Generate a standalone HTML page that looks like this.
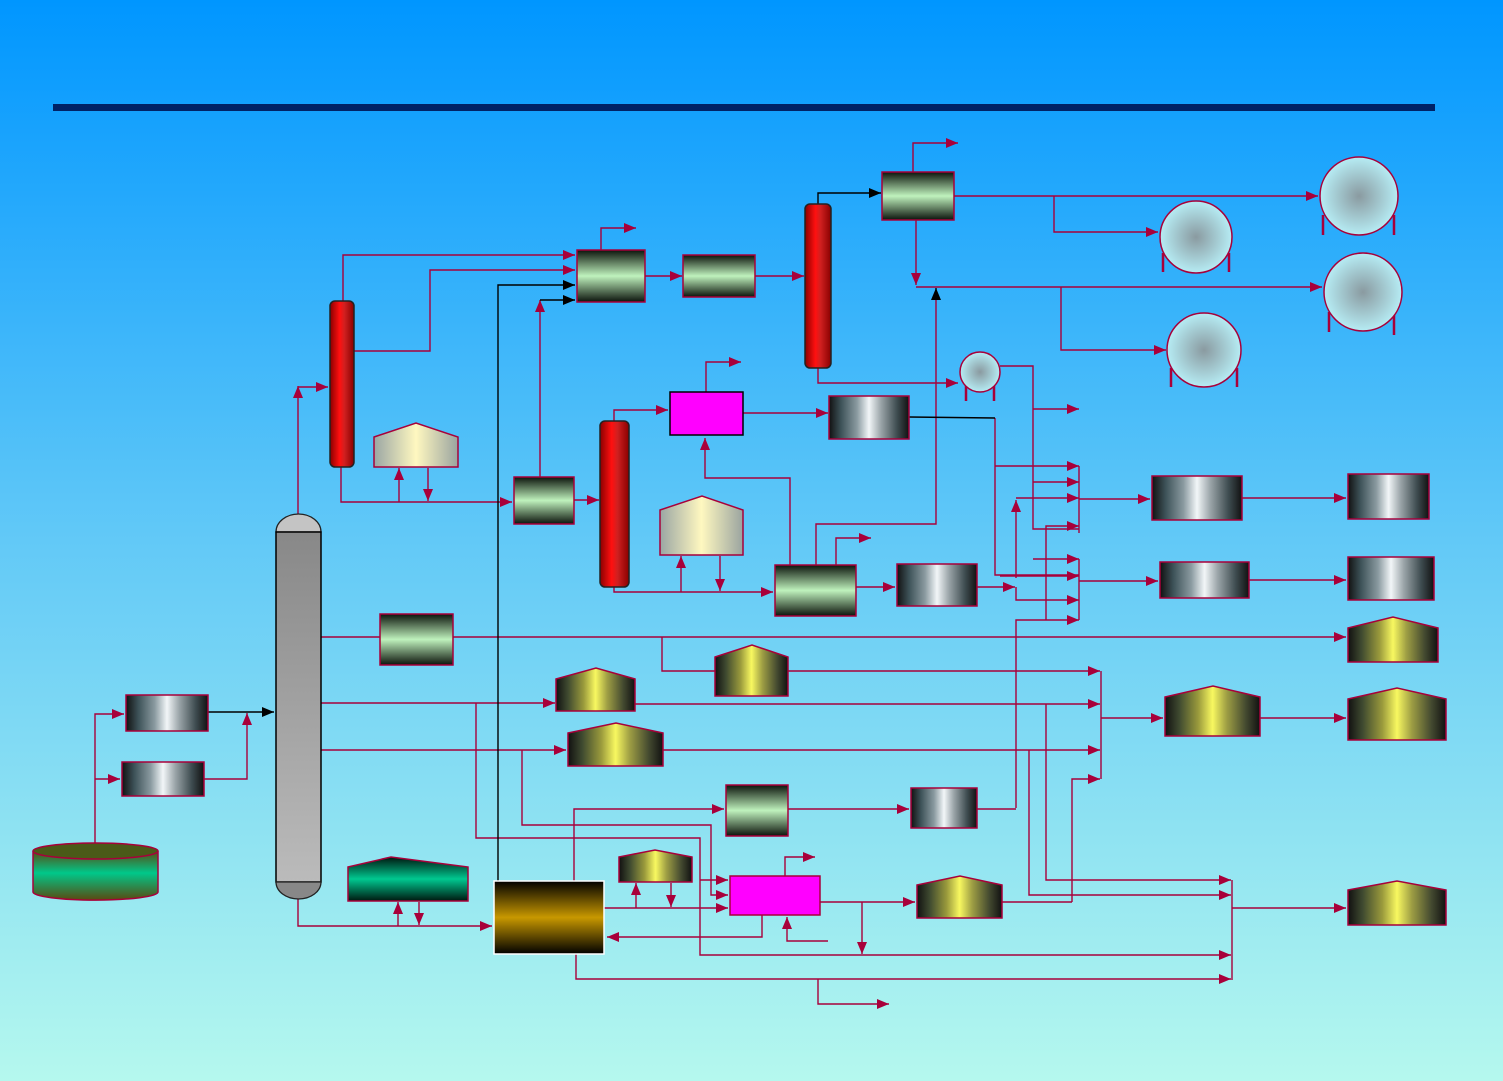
<!DOCTYPE html>
<html><head><meta charset="utf-8">
<style>html,body{margin:0;padding:0;width:1503px;height:1081px;overflow:hidden}svg{display:block}</style>
</head><body>
<svg width="1503" height="1081" viewBox="0 0 1503 1081" xmlns="http://www.w3.org/2000/svg">
<defs>
<linearGradient id="bg" x1="0" y1="0" x2="0" y2="1"><stop offset="0" stop-color="#0096ff"/><stop offset="0.5" stop-color="#62c9f7"/><stop offset="1" stop-color="#b5f8ee"/></linearGradient>
<linearGradient id="gb" x1="0" y1="0" x2="0" y2="1"><stop offset="0" stop-color="#0c140c"/><stop offset="0.5" stop-color="#bff2bd"/><stop offset="1" stop-color="#0c140c"/></linearGradient>
<linearGradient id="mt" x1="0" y1="0" x2="1" y2="0"><stop offset="0" stop-color="#111"/><stop offset="0.15" stop-color="#3d5258"/><stop offset="0.35" stop-color="#8a9aa0"/><stop offset="0.5" stop-color="#f2f6f8"/><stop offset="0.65" stop-color="#9aa4a8"/><stop offset="0.85" stop-color="#3e4c50"/><stop offset="1" stop-color="#111"/></linearGradient>
<linearGradient id="yl" x1="0" y1="0" x2="1" y2="0"><stop offset="0" stop-color="#111"/><stop offset="0.15" stop-color="#3f4a30"/><stop offset="0.35" stop-color="#9a9a3c"/><stop offset="0.5" stop-color="#f8f860"/><stop offset="0.65" stop-color="#9e9e44"/><stop offset="0.85" stop-color="#444a30"/><stop offset="1" stop-color="#111"/></linearGradient>
<linearGradient id="bz" x1="0" y1="0" x2="1" y2="0"><stop offset="0" stop-color="#9aa6a4"/><stop offset="0.5" stop-color="#fff8c0"/><stop offset="1" stop-color="#9aa4a0"/></linearGradient>
<linearGradient id="rd" x1="0" y1="0" x2="1" y2="0"><stop offset="0" stop-color="#8a0000"/><stop offset="0.4" stop-color="#ff1010"/><stop offset="0.6" stop-color="#d02020"/><stop offset="1" stop-color="#8a0000"/></linearGradient>
<linearGradient id="gc" x1="0" y1="0" x2="0" y2="1"><stop offset="0" stop-color="#888"/><stop offset="1" stop-color="#bbb"/></linearGradient>
<linearGradient id="br" x1="0" y1="0" x2="0" y2="1"><stop offset="0" stop-color="#000"/><stop offset="0.5" stop-color="#c89800"/><stop offset="1" stop-color="#000"/></linearGradient>
<linearGradient id="tl" x1="0" y1="0" x2="0" y2="1"><stop offset="0" stop-color="#001810"/><stop offset="0.5" stop-color="#00c890"/><stop offset="1" stop-color="#001810"/></linearGradient>
<linearGradient id="tk" x1="0" y1="0" x2="0" y2="1"><stop offset="0" stop-color="#5a4a10"/><stop offset="0.45" stop-color="#00c88a"/><stop offset="1" stop-color="#5a4a10"/></linearGradient>
<radialGradient id="sp"><stop offset="0" stop-color="#8a9aa0"/><stop offset="1" stop-color="#b6ecf4"/></radialGradient>
<marker id="a" markerUnits="userSpaceOnUse" markerWidth="12" markerHeight="10" refX="12" refY="5" orient="auto"><path d="M0,0L12,5L0,10z" fill="#a8003a"/></marker>
<marker id="k" markerUnits="userSpaceOnUse" markerWidth="12" markerHeight="10" refX="12" refY="5" orient="auto"><path d="M0,0L12,5L0,10z" fill="#000"/></marker>
</defs>
<rect width="1503" height="1081" fill="url(#bg)"/>
<rect x="53" y="104" width="1382" height="7" fill="#002266"/>

<g fill="none" stroke="#a8003a" stroke-width="1.4">
<polyline points="95,845 95,714 124,714" marker-end="url(#a)"/>
<polyline points="95,779 120,779" marker-end="url(#a)"/>
<polyline points="204,779 247,779 247,713" marker-end="url(#a)"/>
<polyline points="298,514 298,386" marker-end="url(#a)"/>
<polyline points="298,387 328,387" marker-end="url(#a)"/>
<polyline points="343,301 343,255 575,255" marker-end="url(#a)"/>
<polyline points="354,351 430,351 430,270 575,270" marker-end="url(#a)"/>
<polyline points="341,467 341,502 512,502" marker-end="url(#a)"/>
<polyline points="399,502 399,468" marker-end="url(#a)"/>
<polyline points="428,468 428,501" marker-end="url(#a)"/>
<polyline points="540,477 540,300" marker-end="url(#a)"/>
<polyline points="574,500 599,500" marker-end="url(#a)"/>
<polyline points="601,250 601,228 636,228" marker-end="url(#a)"/>
<polyline points="645,276 682,276" marker-end="url(#a)"/>
<polyline points="755,276 804,276" marker-end="url(#a)"/>
<polyline points="913,172 913,143 958,143" marker-end="url(#a)"/>
<polyline points="954,196 1318,196" marker-end="url(#a)"/>
<polyline points="1054,196 1054,232 1158,232" marker-end="url(#a)"/>
<polyline points="916,220 916,285" marker-end="url(#a)"/>
<polyline points="916,287 1322,287" marker-end="url(#a)"/>
<polyline points="1061,287 1061,350 1166,350" marker-end="url(#a)"/>
<polyline points="818,368 818,383 958,383" marker-end="url(#a)"/>
<polyline points="614,421 614,410 668,410" marker-end="url(#a)"/>
<polyline points="706,392 706,362 741,362" marker-end="url(#a)"/>
<polyline points="743,413 828,413" marker-end="url(#a)"/>
<polyline points="790,565 790,478 705,478 705,438" marker-end="url(#a)"/>
<polyline points="681,592 681,556" marker-end="url(#a)"/>
<polyline points="720,556 720,591" marker-end="url(#a)"/>
<polyline points="614,587 614,592 773,592" marker-end="url(#a)"/>
<polyline points="816,565 816,524 936,524 936,300"/>
<polyline points="836,565 836,538 871,538" marker-end="url(#a)"/>
<polyline points="856,587 895,587" marker-end="url(#a)"/>
<polyline points="977,587 1015,587" marker-end="url(#a)"/>
<polyline points="995,418 995,575 1079,575" />
<polyline points="995,466 1079,466" marker-end="url(#a)"/>
<polyline points="1000,366 1033,366 1033,529 1079,529" />
<polyline points="1033,409 1079,409" marker-end="url(#a)"/>
<polyline points="1033,482 1079,482" marker-end="url(#a)"/>
<polyline points="1016,578 1016,500" marker-end="url(#a)"/>
<polyline points="1016,498 1079,498" marker-end="url(#a)"/>
<polyline points="1046,620 1046,526 1079,526" marker-end="url(#a)"/>
<polyline points="1033,559 1079,559" marker-end="url(#a)"/>
<polyline points="1000,576 1079,576" marker-end="url(#a)"/>
<polyline points="1016,587 1016,600 1079,600" marker-end="url(#a)"/>
<polyline points="1016,808 1016,620 1079,620" marker-end="url(#a)"/>
<line x1="1079" y1="466" x2="1079" y2="533"/>
<line x1="1079" y1="559" x2="1079" y2="620"/>
<polyline points="1079,499 1150,499" marker-end="url(#a)"/>
<polyline points="1242,498 1346,498" marker-end="url(#a)"/>
<polyline points="1079,581 1158,581" marker-end="url(#a)"/>
<polyline points="1249,580 1346,580" marker-end="url(#a)"/>
<line x1="321" y1="637" x2="380" y2="637"/>
<polyline points="453,637 1346,637" marker-end="url(#a)"/>
<polyline points="662,637 662,671 715,671"/>
<polyline points="788,671 1100,671" marker-end="url(#a)"/>
<polyline points="321,703 555,703" marker-end="url(#a)"/>
<polyline points="635,704 1100,704" marker-end="url(#a)"/>
<polyline points="321,750 566,750" marker-end="url(#a)"/>
<polyline points="663,750 1100,750" marker-end="url(#a)"/>
<line x1="1101" y1="671" x2="1101" y2="779"/>
<polyline points="1072,902 1072,779 1100,779" marker-end="url(#a)"/>
<polyline points="1101,718 1163,718" marker-end="url(#a)"/>
<polyline points="1260,718 1346,718" marker-end="url(#a)"/>
<polyline points="1046,704 1046,880 1231,880" marker-end="url(#a)"/>
<polyline points="1029,750 1029,895 1231,895" marker-end="url(#a)"/>
<polyline points="788,809 909,809" marker-end="url(#a)"/>
<polyline points="977,809 1016,809"/>
<polyline points="574,881 574,809 724,809" marker-end="url(#a)"/>
<polyline points="476,703 476,838 700,838 700,955 1231,955" marker-end="url(#a)"/>
<polyline points="700,880 728,880" marker-end="url(#a)"/>
<polyline points="522,750 522,825 711,825 711,895 728,895" marker-end="url(#a)"/>
<polyline points="604,908 728,908" marker-end="url(#a)"/>
<polyline points="636,908 636,883" marker-end="url(#a)"/>
<polyline points="671,883 671,907" marker-end="url(#a)"/>
<polyline points="785,876 785,857 815,857" marker-end="url(#a)"/>
<polyline points="820,902 915,902" marker-end="url(#a)"/>
<polyline points="1002,902 1072,902"/>
<polyline points="862,902 862,954" marker-end="url(#a)"/>
<polyline points="828,941 787,941 787,917" marker-end="url(#a)"/>
<polyline points="762,915 762,937 607,937" marker-end="url(#a)"/>
<polyline points="576,954 576,979 1231,979" marker-end="url(#a)"/>
<polyline points="818,979 818,1004 889,1004" marker-end="url(#a)"/>
<line x1="1232" y1="880" x2="1232" y2="980"/>
<polyline points="1232,908 1346,908" marker-end="url(#a)"/>
<polyline points="298,898 298,926 492,926" marker-end="url(#a)"/>
<polyline points="398,926 398,902" marker-end="url(#a)"/>
<polyline points="419,902 419,925" marker-end="url(#a)"/>
</g>
<g fill="none" stroke="#000" stroke-width="1.4">
<polyline points="208,712 274,712" marker-end="url(#k)"/>
<polyline points="498,881 498,285 575,285" marker-end="url(#k)"/>
<polyline points="540,300 575,300" marker-end="url(#k)"/>
<polyline points="818,204 818,193 881,193" marker-end="url(#k)"/>
<polyline points="936,300 936,288" marker-end="url(#k)"/>
<polyline points="909,417 995,418"/>
</g>

<g stroke="#a8003a" stroke-width="1.5">
<path d="M33,851 L33,892 A62,8 0 0 0 158,892 L158,851" fill="url(#tk)"/>
<ellipse cx="95.5" cy="851" rx="62.5" ry="8" fill="#4a5a18"/>
<rect x="126" y="695" width="82" height="36" fill="url(#mt)"/>
<rect x="122" y="762" width="82" height="34" fill="url(#mt)"/>
<rect x="330" y="301" width="24" height="166" rx="5" fill="url(#rd)" stroke="#222"/>
<rect x="600" y="421" width="29" height="166" rx="5" fill="url(#rd)" stroke="#222"/>
<rect x="805" y="204" width="26" height="164" rx="5" fill="url(#rd)" stroke="#222"/>
<rect x="577" y="250" width="68" height="52" fill="url(#gb)"/>
<rect x="683" y="255" width="72" height="42" fill="url(#gb)"/>
<rect x="882" y="172" width="72" height="48" fill="url(#gb)"/>
<rect x="514" y="477" width="60" height="47" fill="url(#gb)"/>
<rect x="775" y="565" width="81" height="51" fill="url(#gb)"/>
<rect x="380" y="614" width="73" height="51" fill="url(#gb)"/>
<rect x="726" y="785" width="62" height="51" fill="url(#gb)"/>
<rect x="670" y="392" width="73" height="43" fill="#ff00ff" stroke="#000"/>
<rect x="730" y="876" width="90" height="39" fill="#ff00ff"/>
<rect x="829" y="396" width="80" height="43" fill="url(#mt)"/>
<rect x="897" y="564" width="80" height="42" fill="url(#mt)"/>
<rect x="911" y="788" width="66" height="40" fill="url(#mt)"/>
<rect x="1152" y="476" width="90" height="44" fill="url(#mt)"/>
<rect x="1348" y="474" width="81" height="45" fill="url(#mt)"/>
<rect x="1160" y="562" width="89" height="36" fill="url(#mt)"/>
<rect x="1348" y="557" width="86" height="43" fill="url(#mt)"/>
<polygon points="374,437 416,423 458,437 458,467 374,467" fill="url(#bz)"/>
<polygon points="660,510 702,496 743,510 743,555 660,555" fill="url(#bz)"/>
<polygon points="556,679 596,668 635,679 635,711 556,711" fill="url(#yl)"/>
<polygon points="568,733 616,723 663,733 663,766 568,766" fill="url(#yl)"/>
<polygon points="715,657 752,645 788,657 788,696 715,696" fill="url(#yl)"/>
<polygon points="619,857 655,850 692,857 692,882 619,882" fill="url(#yl)"/>
<polygon points="917,885 960,876 1002,885 1002,918 917,918" fill="url(#yl)"/>
<polygon points="1348,628 1393,617 1438,628 1438,662 1348,662" fill="url(#yl)"/>
<polygon points="1165,697 1213,686 1260,697 1260,736 1165,736" fill="url(#yl)"/>
<polygon points="1348,699 1397,688 1446,699 1446,740 1348,740" fill="url(#yl)"/>
<polygon points="1348,890 1397,881 1446,890 1446,925 1348,925" fill="url(#yl)"/>
<polygon points="348,867 391,857 468,867 468,901 348,901" fill="url(#tl)"/>
<rect x="494" y="881" width="110" height="73" fill="url(#br)" stroke="#fff"/>
<g stroke-width="2.5"><line x1="1323" y1="215" x2="1323" y2="235"/><line x1="1394" y1="215" x2="1394" y2="235"/><line x1="1163" y1="253" x2="1163" y2="272"/><line x1="1229" y1="253" x2="1229" y2="272"/><line x1="1329" y1="312" x2="1329" y2="332"/><line x1="1394" y1="312" x2="1394" y2="335"/><line x1="1171" y1="368" x2="1171" y2="387"/><line x1="1237" y1="368" x2="1237" y2="387"/><line x1="966" y1="385" x2="966" y2="401"/><line x1="994" y1="385" x2="994" y2="401"/></g>
<circle cx="1359" cy="196" r="39" fill="url(#sp)"/>
<circle cx="1196" cy="237" r="36" fill="url(#sp)"/>
<circle cx="1363" cy="292" r="39" fill="url(#sp)"/>
<circle cx="1204" cy="350" r="37" fill="url(#sp)"/>
<circle cx="980" cy="372" r="20" fill="url(#sp)"/>
</g>
<path d="M276,532 A22.5,18 0 0 1 321,532 Z" fill="#c4c4c4" stroke="#222" stroke-width="1.3"/>
<rect x="276" y="532" width="45" height="350" fill="url(#gc)" stroke="#000" stroke-width="1.5"/>
<path d="M276,882 A22.5,17 0 0 0 321,882 Z" fill="#888" stroke="#222" stroke-width="1.3"/>
</svg>
</body></html>
